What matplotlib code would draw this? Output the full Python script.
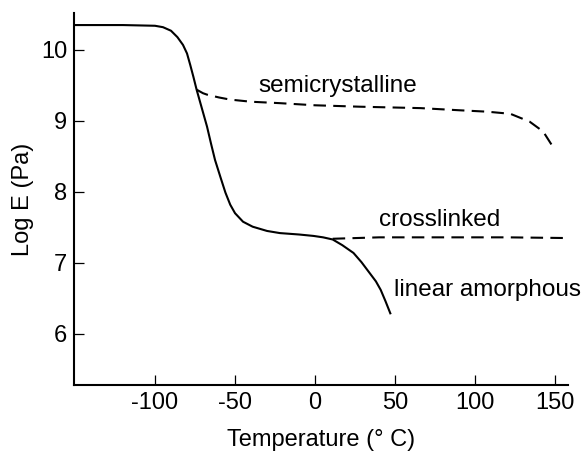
import matplotlib.pyplot as plt

plt.rcParams['font.family'] = ['Liberation Sans', 'DejaVu Sans']
plt.rcParams['axes.unicode_minus'] = False

# Values
linear_T = [-150, -120, -100, -95, -90, -86, -82.5, -80, -78, -76, -74, -71, -67.5, -65,
            -62.5, -59, -56, -53, -50, -45, -39, -30, -22, -10, -1, 5, 11, 17, 24, 29,
            34, 38, 41, 44, 47]
linear_E = [10.35, 10.35, 10.34, 10.32, 10.27, 10.18, 10.07, 9.95, 9.79, 9.62, 9.44, 9.2,
            8.92, 8.68, 8.45, 8.2, 7.99, 7.82, 7.70, 7.58, 7.51, 7.45, 7.42, 7.40, 7.38,
            7.36, 7.33, 7.25, 7.14, 7.01, 6.86, 6.74, 6.62, 6.46, 6.29]

semi_T = [-74, -70, -67.5, -60, -53, -40, -22, 0, 28, 66, 90, 107.5, 122, 134, 142.5, 149]
semi_E = [9.44, 9.39, 9.37, 9.33, 9.30, 9.27, 9.25, 9.22, 9.20, 9.18, 9.15, 9.13, 9.10,
          8.99, 8.85, 8.62]

cross_T = [11, 40, 80, 120, 158]
cross_E = [7.34, 7.36, 7.36, 7.36, 7.35]

x_ticks = [-100, -50, 0, 50, 100, 150]
y_ticks = [6, 7, 8, 9, 10]

fig = plt.figure(figsize=(5.84, 4.51), dpi=100)
ax = fig.add_axes([0.1267, 0.1463, 0.8459, 0.8249])

ax.plot(linear_T, linear_E, color='black', lw=1.5)
ax.plot(semi_T, semi_E, color='black', lw=1.5, dashes=(6, 3.5))
ax.plot(cross_T, cross_E, color='black', lw=1.5, dashes=(6, 3.5))

fs = 17.5
ax.text(-35.5, 9.49, 'semicrystalline', fontsize=fs, va='center', ha='left')
ax.text(40, 7.61, 'crosslinked', fontsize=fs, va='center', ha='left')
ax.text(49, 6.62, 'linear amorphous', fontsize=fs, va='center', ha='left')

ax.set_xlim(-150.6, 158)
ax.set_ylim(5.28, 10.52)
ax.set_xticks(x_ticks)
ax.set_yticks(y_ticks)
ax.tick_params(direction='in', length=7, width=0.9, labelsize=17, pad=5)

for side in ['top', 'right']:
    ax.spines[side].set_visible(False)
for side in ['left', 'bottom']:
    ax.spines[side].set_linewidth(1.5)

ax.set_xlabel('Temperature (° C)', fontsize=17, labelpad=11)
ax.set_ylabel('Log E (Pa)', fontsize=17, labelpad=5)

fig.savefig('out.png', dpi=100)
